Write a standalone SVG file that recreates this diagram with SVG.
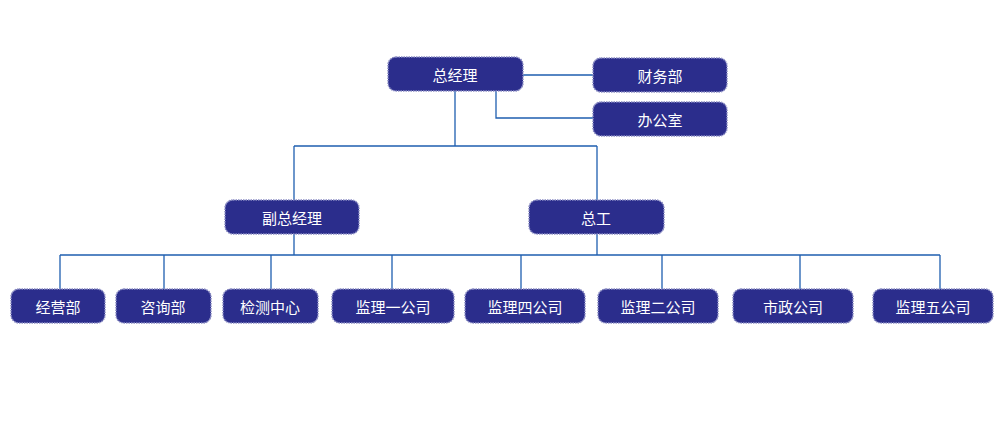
<svg xmlns="http://www.w3.org/2000/svg" width="1000" height="429" viewBox="0 0 1000 429">
<style>
.n rect{fill:#2b2d8c;stroke:#8a8cc4;stroke-width:1.5;stroke-dasharray:1.5 1}
.n text{fill:#fff;font-family:"Noto Sans CJK SC","Noto Sans",sans-serif;font-size:15px;text-anchor:middle;dominant-baseline:central}
#c path{fill:none;stroke:#1f5fb0;stroke-width:1.3}
</style>
<rect width="1000" height="429" fill="#fff"/>
<g id="c">
<path d="M523 75H593M496 91V118H593M455 91V146M294 146H597M294 146V200M597 146V200M294 234V255M597 234V255M60 255H940M60 255V289M164 255V289M271 255V289M392 255V289M521 255V289M662 255V289M800 255V289M940 255V289"/>
</g>
<g id="n1" class="n"><rect x="388" y="57" width="135" height="34" rx="8"/><text x="455" y="74">总经理</text></g>
<g id="n2" class="n"><rect x="593" y="58" width="134" height="34" rx="8"/><text x="660" y="75">财务部</text></g>
<g id="n3" class="n"><rect x="593" y="102" width="134" height="34" rx="8"/><text x="660" y="119">办公室</text></g>
<g id="n4" class="n"><rect x="225" y="200" width="134" height="34" rx="8"/><text x="292" y="217">副总经理</text></g>
<g id="n5" class="n"><rect x="529" y="200" width="135" height="34" rx="8"/><text x="596" y="217">总工</text></g>
<g id="n6" class="n"><rect x="11" y="289" width="94" height="34" rx="8"/><text x="58" y="306">经营部</text></g>
<g id="n7" class="n"><rect x="116" y="289" width="95" height="34" rx="8"/><text x="163" y="306">咨询部</text></g>
<g id="n8" class="n"><rect x="223" y="289" width="95" height="34" rx="8"/><text x="270" y="306">检测中心</text></g>
<g id="n9" class="n"><rect x="332" y="289" width="122" height="34" rx="8"/><text x="393" y="306">监理一公司</text></g>
<g id="n10" class="n"><rect x="465" y="289" width="120" height="34" rx="8"/><text x="525" y="306">监理四公司</text></g>
<g id="n11" class="n"><rect x="598" y="289" width="120" height="34" rx="8"/><text x="658" y="306">监理二公司</text></g>
<g id="n12" class="n"><rect x="733" y="289" width="120" height="34" rx="8"/><text x="793" y="306">市政公司</text></g>
<g id="n13" class="n"><rect x="873" y="289" width="120" height="34" rx="8"/><text x="933" y="306">监理五公司</text></g>
</svg>
